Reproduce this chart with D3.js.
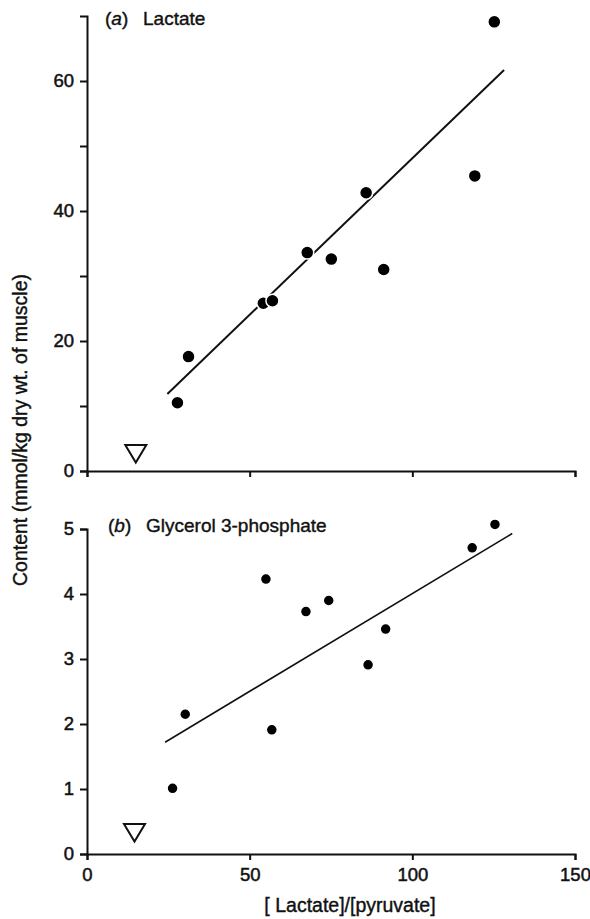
<!DOCTYPE html>
<html>
<head>
<meta charset="utf-8">
<script src="https://cdn.jsdelivr.net/npm/d3@7"></script>
<style>
  body { margin: 0; background: #fff; }
  svg text { font-family: "Liberation Sans", Arial, sans-serif; fill: #111; }
</style>
</head>
<body>
<script>
// values
var lactRatio   = [27.8, 31.2, 54.2, 57.0, 67.7, 75.1, 85.8, 91.2, 119.2, 125.2];
var lactContent = [10.5, 17.6, 25.8, 26.2, 33.6, 32.6, 42.8, 31.0, 45.4, 69.1];
var lactLine    = [[24.7, 11.85], [128.2, 61.7]];
var lactTri     = [15, 2.7];

var g3pRatio    = [26.3, 30.2, 55.0, 56.8, 67.3, 74.3, 86.4, 91.8, 118.4, 125.4];
var g3pContent  = [1.01, 2.15, 4.23, 1.91, 3.73, 3.90, 2.91, 3.46, 4.71, 5.07];
var g3pLine     = [[24.0, 1.72], [130.7, 4.93]];
var g3pTri      = [14.6, 0.33];

var xTicks = [0, 50, 100, 150];
var lactTicks = [0, 10, 20, 30, 40, 50, 60];
var g3pTicks = [0, 1, 2, 3, 4, 5];

var width = 590, height = 919;

var svg = d3.select("body").append("svg")
    .attr("width", width)
    .attr("height", height);

var x = d3.scaleLinear().domain([0, 150]).range([87, 575]);
var yTop = d3.scaleLinear().domain([0, 70]).range([471, 16]);
var yBot = d3.scaleLinear().domain([0, 5]).range([854, 529]);

function styleAxis(g) {
    g.attr("font-size", 18.5);
    g.selectAll("path, line").attr("stroke", "#111").attr("stroke-width", 2);
    g.selectAll("text").attr("fill", "#111")
     .attr("stroke", "#111").attr("stroke-width", 0.5)
     .style("font-family", "'Liberation Sans', Arial, sans-serif");
}

// top panel axes
svg.append("g")
    .attr("transform", "translate(" + x(0) + ",0)")
    .call(d3.axisLeft(yTop).tickValues(lactTicks).tickSize(7).tickSizeOuter(7).tickPadding(6)
        .tickFormat(function(d) { return d % 20 === 0 ? d : ""; }))
    .call(styleAxis);

svg.append("g")
    .attr("transform", "translate(0," + yTop(0) + ")")
    .call(d3.axisBottom(x).tickValues(xTicks).tickSize(6).tickSizeOuter(6).tickFormat(""))
    .call(styleAxis);

// bottom panel axes
svg.append("g")
    .attr("transform", "translate(" + x(0) + ",0)")
    .call(d3.axisLeft(yBot).tickValues(g3pTicks).tickSize(7).tickSizeOuter(7).tickPadding(6)
        .tickFormat(d3.format("d")))
    .call(styleAxis);

svg.append("g")
    .attr("transform", "translate(0," + yBot(0) + ")")
    .call(d3.axisBottom(x).tickValues(xTicks).tickSize(6).tickSizeOuter(6).tickPadding(8))
    .call(styleAxis);

// panel titles
function title(txt, letter, px, py) {
    var t = svg.append("text")
        .attr("x", px).attr("y", py)
        .attr("font-size", 19)
        .attr("stroke", "#111").attr("stroke-width", 0.4);
    t.append("tspan").text("(");
    t.append("tspan").attr("font-style", "italic").text(letter);
    t.append("tspan").text(")\u2002 " + txt);
}
title("Lactate", "a", 105, 25);
title("Glycerol 3-phosphate", "b", 108, 532);

// axis labels
svg.append("text")
    .attr("transform", "translate(27,430) rotate(-90)")
    .attr("text-anchor", "middle")
    .attr("font-size", 19.5)
    .attr("stroke", "#111").attr("stroke-width", 0.4)
    .text("Content (mmol/kg dry wt. of muscle)");

svg.append("text")
    .attr("x", 350).attr("y", 912)
    .attr("text-anchor", "middle")
    .attr("font-size", 19.5)
    .attr("stroke", "#111").attr("stroke-width", 0.4)
    .text("[ Lactate]/[pyruvate]");

var line = d3.line();

function panel(xs, ys, fit, tri, y, r, lw) {
    svg.append("path")
        .attr("d", line(fit.map(function(p) { return [x(p[0]), y(p[1])]; })))
        .attr("fill", "none")
        .attr("stroke", "#111")
        .attr("stroke-width", lw);

    svg.append("g").selectAll("circle")
        .data(xs)
        .enter().append("circle")
        .attr("cx", function(d) { return x(d); })
        .attr("cy", function(d, i) { return y(ys[i]); })
        .attr("r", r)
        .attr("fill", "#000")
        .attr("stroke", "#fff")
        .attr("stroke-width", 1.5);

    var cx = x(tri[0]), cy = y(tri[1]);
    svg.append("path")
        .attr("d", "M" + (cx - 10.5) + "," + (cy - 8.5) + "L" + (cx + 10.5) + "," + (cy - 8.5) +
                   "L" + cx + "," + (cy + 9) + "Z")
        .attr("fill", "#fff")
        .attr("stroke", "#111")
        .attr("stroke-width", 2);
}

panel(lactRatio, lactContent, lactLine, lactTri, yTop, 6.5, 2);
panel(g3pRatio, g3pContent, g3pLine, g3pTri, yBot, 5.5, 1.6);
</script>
</body>
</html>
